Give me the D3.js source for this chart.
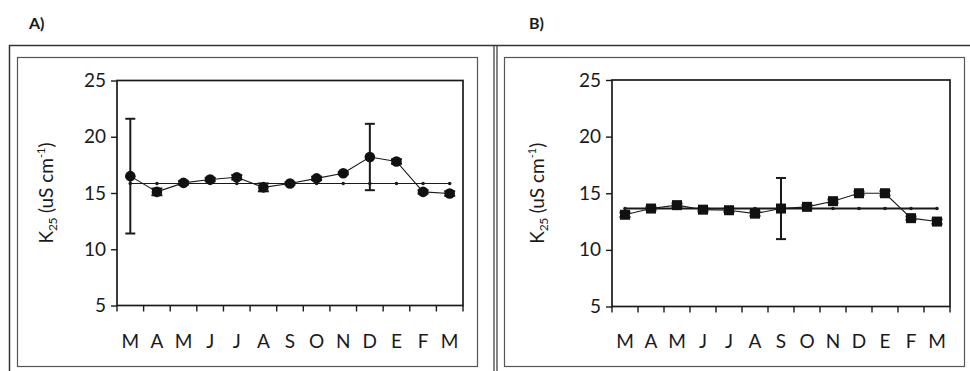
<!DOCTYPE html>
<html><head><meta charset="utf-8">
<script src="https://cdn.jsdelivr.net/npm/d3@7"></script>
<style>body{margin:0;background:#fff}svg{display:block}</style>
</head><body>
<svg id="c" width="970" height="371"></svg>
<script>
const months = ["M","A","M","J","J","A","S","O","N","D","E","F","M"];
const yTicks = [5,10,15,20,25];
const valuesA = [16.5,15.1,15.9,16.2,16.4,15.5,15.85,16.3,16.75,18.2,17.8,15.1,14.95];
const errorsA = [5.1,0.3,0.15,0.15,0.2,0.35,0.1,0.15,0.1,2.95,0.2,0.15,0.2];
const meanA = 15.85;
const valuesB = [13.1,13.65,13.95,13.55,13.5,13.2,13.65,13.8,14.3,15.0,15.0,12.8,12.5];
const errorsB = [0.2,0.15,0.15,0.15,0.15,0.2,2.7,0.15,0.15,0.15,0.2,0.15,0.2];
const meanB = 13.65;

const svg = d3.select("#c");
const ink = "#1a1a1a";
const font = "Lato, 'DejaVu Sans', sans-serif";

// frames
svg.append("path").attr("d","M9.5,371 V45.5 H970").attr("fill","none").attr("stroke","#333").attr("stroke-width",1.5);
svg.append("line").attr("x1",494).attr("x2",494).attr("y1",45).attr("y2",371).attr("stroke","#333").attr("stroke-width",1.2);
svg.append("line").attr("x1",497).attr("x2",497).attr("y1",45).attr("y2",371).attr("stroke","#333").attr("stroke-width",1.2);
svg.append("rect").attr("x",17.5).attr("y",57.5).attr("width",460).attr("height",309).attr("fill","none").attr("stroke","#555").attr("stroke-width",1.2);
svg.append("rect").attr("x",504.5).attr("y",57.5).attr("width",460).attr("height",309).attr("fill","none").attr("stroke","#555").attr("stroke-width",1.2);

svg.append("text").attr("x",29).attr("y",29).text("A)").attr("font-family",font).attr("font-weight","bold").attr("font-size",16).attr("fill",ink);
svg.append("text").attr("x",529).attr("y",29).text("B)").attr("font-family",font).attr("font-weight","bold").attr("font-size",16).attr("fill",ink);

function panel(cfg){
  const g = svg.append("g");
  const x = d3.scaleBand().domain(d3.range(months.length)).range([cfg.x0,cfg.x1]);
  const y = d3.scaleLinear().domain([5,25]).range([cfg.y1,cfg.y0]);
  g.append("rect").attr("x",cfg.x0).attr("y",cfg.y0).attr("width",cfg.x1-cfg.x0).attr("height",cfg.y1-cfg.y0)
    .attr("fill","none").attr("stroke",ink).attr("stroke-width",1.7);
  const ya = d3.axisLeft(y).tickValues(yTicks).tickSize(6).tickPadding(5);
  const yg = g.append("g").attr("transform",`translate(${cfg.x0},0)`).call(ya);
  yg.select(".domain").remove();
  yg.selectAll("line").attr("stroke",ink).attr("stroke-width",1.4);
  yg.selectAll("text").attr("font-family",font).attr("font-size",19).attr("fill",ink);
  const bounds = d3.range(months.length+1).map(i=>cfg.x0+i*x.step());
  g.selectAll(".xt").data(bounds).join("line").attr("x1",d=>d).attr("x2",d=>d)
    .attr("y1",cfg.y1).attr("y2",cfg.y1+6).attr("stroke",ink).attr("stroke-width",1.4);
  g.selectAll(".xl").data(months).join("text")
    .attr("x",(d,i)=>x(i)+x.bandwidth()/2).attr("y",348).attr("text-anchor","middle")
    .attr("font-family",font).attr("font-size",19).attr("fill",ink).text(d=>d);
  const t = g.append("text").attr("transform",`translate(${cfg.tx},${(cfg.y0+cfg.y1)/2}) rotate(-90)`)
    .attr("text-anchor","middle").attr("font-family",font).attr("font-size",19).attr("fill",ink);
  t.append("tspan").text("K");
  t.append("tspan").text("25").attr("font-size",12).attr("dy",4).attr("letter-spacing",-0.5);
  t.append("tspan").text(" (uS cm").attr("dy",-4);
  t.append("tspan").text("-1").attr("font-size",11).attr("dy",-8);
  t.append("tspan").text(")").attr("dy",8);
  const cx = i=>x(i)+x.bandwidth()/2;
  g.append("line").attr("x1",cx(0)).attr("x2",cx(months.length-1)).attr("y1",y(cfg.mean)).attr("y2",y(cfg.mean))
    .attr("stroke",ink).attr("stroke-width",cfg.meanW);
  g.selectAll(".md").data(months).join("circle").attr("cx",(d,i)=>cx(i)).attr("cy",y(cfg.mean)).attr("r",1.8).attr("fill",ink);
  g.append("path").datum(cfg.vals).attr("d",d3.line().x((d,i)=>cx(i)).y(d=>y(d)))
    .attr("fill","none").attr("stroke",ink).attr("stroke-width",1.1);
  cfg.vals.forEach((v,i)=>{
    const e = cfg.errs[i], c = cx(i), w = e>1?5:5.5;
    g.append("line").attr("x1",c).attr("x2",c).attr("y1",y(v-e)).attr("y2",y(v+e)).attr("stroke",ink).attr("stroke-width",2);
    [v-e,v+e].forEach(yy=>g.append("line").attr("x1",c-w).attr("x2",c+w).attr("y1",y(yy)).attr("y2",y(yy)).attr("stroke",ink).attr("stroke-width",2));
  });
  if(cfg.shape==="circle"){
    g.selectAll(".pt").data(cfg.vals).join("circle").attr("cx",(d,i)=>cx(i)).attr("cy",d=>y(d)).attr("r",5.3).attr("fill","#111");
  } else {
    g.selectAll(".pt").data(cfg.vals).join("rect").attr("x",(d,i)=>cx(i)-5).attr("y",d=>y(d)-5).attr("width",10).attr("height",10).attr("fill","#111");
  }
}

panel({x0:117,x1:463,y0:80.5,y1:305.5,tx:53,vals:valuesA,errs:errorsA,mean:meanA,meanW:1.1,shape:"circle"});
panel({x0:612,x1:950,y0:80,y1:306.5,tx:544,vals:valuesB,errs:errorsB,mean:meanB,meanW:2,shape:"square"});
</script>
</body></html>
